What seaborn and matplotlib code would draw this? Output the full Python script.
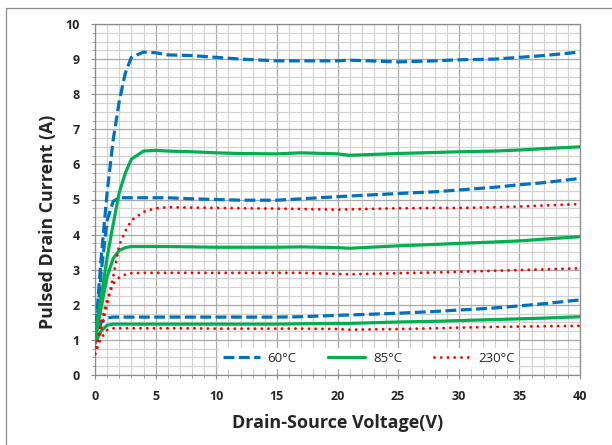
import matplotlib
matplotlib.use("Agg")
import matplotlib.pyplot as plt
import seaborn as sns
from matplotlib.ticker import MultipleLocator
from matplotlib.lines import Line2D

# drain-source voltage (V) sample points
vds = [0, 0.5, 1, 1.5, 2, 2.5, 3, 4, 5, 6, 8, 10, 12, 15, 17, 20, 21, 25, 28, 30, 33, 35, 37, 40]

# 60°C curves (A)
id60_hi = [1.0, 3.3, 5.2, 6.7, 7.8, 8.6, 9.05, 9.2, 9.18, 9.12, 9.1, 9.05, 9.0, 8.95, 8.95, 8.95, 8.97, 8.92, 8.95, 8.98, 9.0, 9.05, 9.1, 9.2]
id60_mid = [0.9, 2.9, 4.4, 4.95, 5.05, 5.05, 5.05, 5.05, 5.05, 5.05, 5.02, 5.0, 4.98, 4.98, 5.02, 5.08, 5.1, 5.17, 5.22, 5.27, 5.35, 5.42, 5.48, 5.6]
id60_lo = [0.9, 1.5, 1.63, 1.65, 1.65, 1.65, 1.65, 1.65, 1.65, 1.65, 1.65, 1.65, 1.65, 1.65, 1.66, 1.7, 1.71, 1.76, 1.81, 1.85, 1.91, 1.97, 2.03, 2.14]

# 85°C curves (A)
id85_hi = [1.1, 2.2, 3.35, 4.3, 5.2, 5.75, 6.15, 6.38, 6.4, 6.38, 6.36, 6.33, 6.31, 6.3, 6.33, 6.3, 6.26, 6.31, 6.34, 6.36, 6.38, 6.41, 6.45, 6.5]
id85_mid = [0.95, 1.9, 2.8, 3.32, 3.55, 3.63, 3.66, 3.66, 3.66, 3.66, 3.65, 3.64, 3.64, 3.64, 3.65, 3.63, 3.61, 3.68, 3.72, 3.75, 3.79, 3.82, 3.87, 3.94]
id85_lo = [0.9, 1.25, 1.42, 1.45, 1.45, 1.45, 1.45, 1.45, 1.45, 1.45, 1.45, 1.45, 1.45, 1.45, 1.46, 1.47, 1.47, 1.51, 1.53, 1.55, 1.58, 1.6, 1.62, 1.66]

# 230°C curves (A)
id230_hi = [0.6, 1.3, 2.0, 2.8, 3.7, 4.1, 4.4, 4.65, 4.75, 4.78, 4.77, 4.76, 4.75, 4.74, 4.73, 4.71, 4.72, 4.75, 4.76, 4.76, 4.78, 4.8, 4.83, 4.87]
id230_mid = [0.6, 1.5, 2.15, 2.6, 2.78, 2.86, 2.9, 2.91, 2.91, 2.91, 2.91, 2.91, 2.91, 2.91, 2.91, 2.88, 2.87, 2.9, 2.92, 2.94, 2.97, 2.99, 3.01, 3.04]
id230_lo = [0.6, 1.05, 1.28, 1.33, 1.33, 1.33, 1.33, 1.33, 1.33, 1.33, 1.33, 1.32, 1.32, 1.32, 1.32, 1.31, 1.29, 1.31, 1.33, 1.35, 1.37, 1.38, 1.39, 1.4]

labels = ["60°C", "85°C", "230°C"]

sns.set_style("white")
plt.rcParams['font.family'] = ['Open Sans', 'DejaVu Sans']

fig = plt.figure(figsize=(6.12, 4.45), dpi=100)
ax = fig.add_axes([95 / 612, 70 / 445, 485 / 612, 351 / 445])

# 60°C - blue dashed
for i, y in enumerate([id60_hi, id60_mid, id60_lo]):
    sns.lineplot(x=vds, y=y, ax=ax, color="#0070C0", lw=2.3, linestyle=(0, (3.4, 1.4)),
                 label=labels[0] if i == 0 else None, zorder=3)
# 85°C - green solid
for i, y in enumerate([id85_hi, id85_mid, id85_lo]):
    sns.lineplot(x=vds, y=y, ax=ax, color="#00B050", lw=2.3, linestyle="-",
                 label=labels[1] if i == 0 else None, zorder=3)
# 230°C - red round dots
for i, y in enumerate([id230_hi, id230_mid, id230_lo]):
    sns.lineplot(x=vds, y=y, ax=ax, color="#FF0000", lw=2.1, linestyle=(0, (0.01, 2.3)),
                 dash_capstyle="round", label=labels[2] if i == 0 else None, zorder=3)

ax.set_xlim(0, 40)
ax.set_ylim(0, 10)
ax.xaxis.set_major_locator(MultipleLocator(5))
ax.xaxis.set_minor_locator(MultipleLocator(1))
ax.yaxis.set_major_locator(MultipleLocator(1))
ax.yaxis.set_minor_locator(MultipleLocator(0.25))
ax.grid(which="major", color="#a8a8a8", lw=0.9)
ax.grid(which="minor", color="#d2d2d2", lw=0.9)
ax.set_axisbelow(True)
for s in ax.spines.values():
    s.set_color("#8c8c8c")
    s.set_linewidth(0.9)
ax.tick_params(which="both", direction="out", color="#8c8c8c", left=True, bottom=True)
ax.tick_params(which="major", length=3, pad=8)
ax.tick_params(which="minor", length=2)
for t in ax.get_xticklabels() + ax.get_yticklabels():
    t.set_fontweight("bold")
    t.set_fontsize(9)
ax.set_xlabel("")
ax.set_ylabel("")

fig.text(337.5 / 612, 1 - 423 / 445, "Drain-Source Voltage(V)", ha="center", va="center",
         fontsize=13, fontweight="bold")
fig.text(48 / 612, 1 - 222 / 445, "Pulsed Drain Current (A)", ha="center", va="center",
         rotation=90, fontsize=12.8, fontweight="bold")

leg = ax.legend(loc="center", bbox_to_anchor=(0.565, 0.048), ncol=3, fontsize=9.5,
                frameon=True, fancybox=False, framealpha=1, edgecolor="white",
                handlelength=2.8, handletextpad=0.6, columnspacing=2.4,
                borderpad=0.3, borderaxespad=0)
leg.get_frame().set_linewidth(0)

# outer chart frame
fig.add_artist(Line2D([5.5 / 612, 5.5 / 612], [0, 1 - 7.5 / 445], transform=fig.transFigure,
                      color="#8c8c8c", lw=0.9))
fig.add_artist(Line2D([5.5 / 612, 1], [1 - 7.5 / 445, 1 - 7.5 / 445], transform=fig.transFigure,
                      color="#8c8c8c", lw=0.9))

fig.savefig("out.png", dpi=100)
